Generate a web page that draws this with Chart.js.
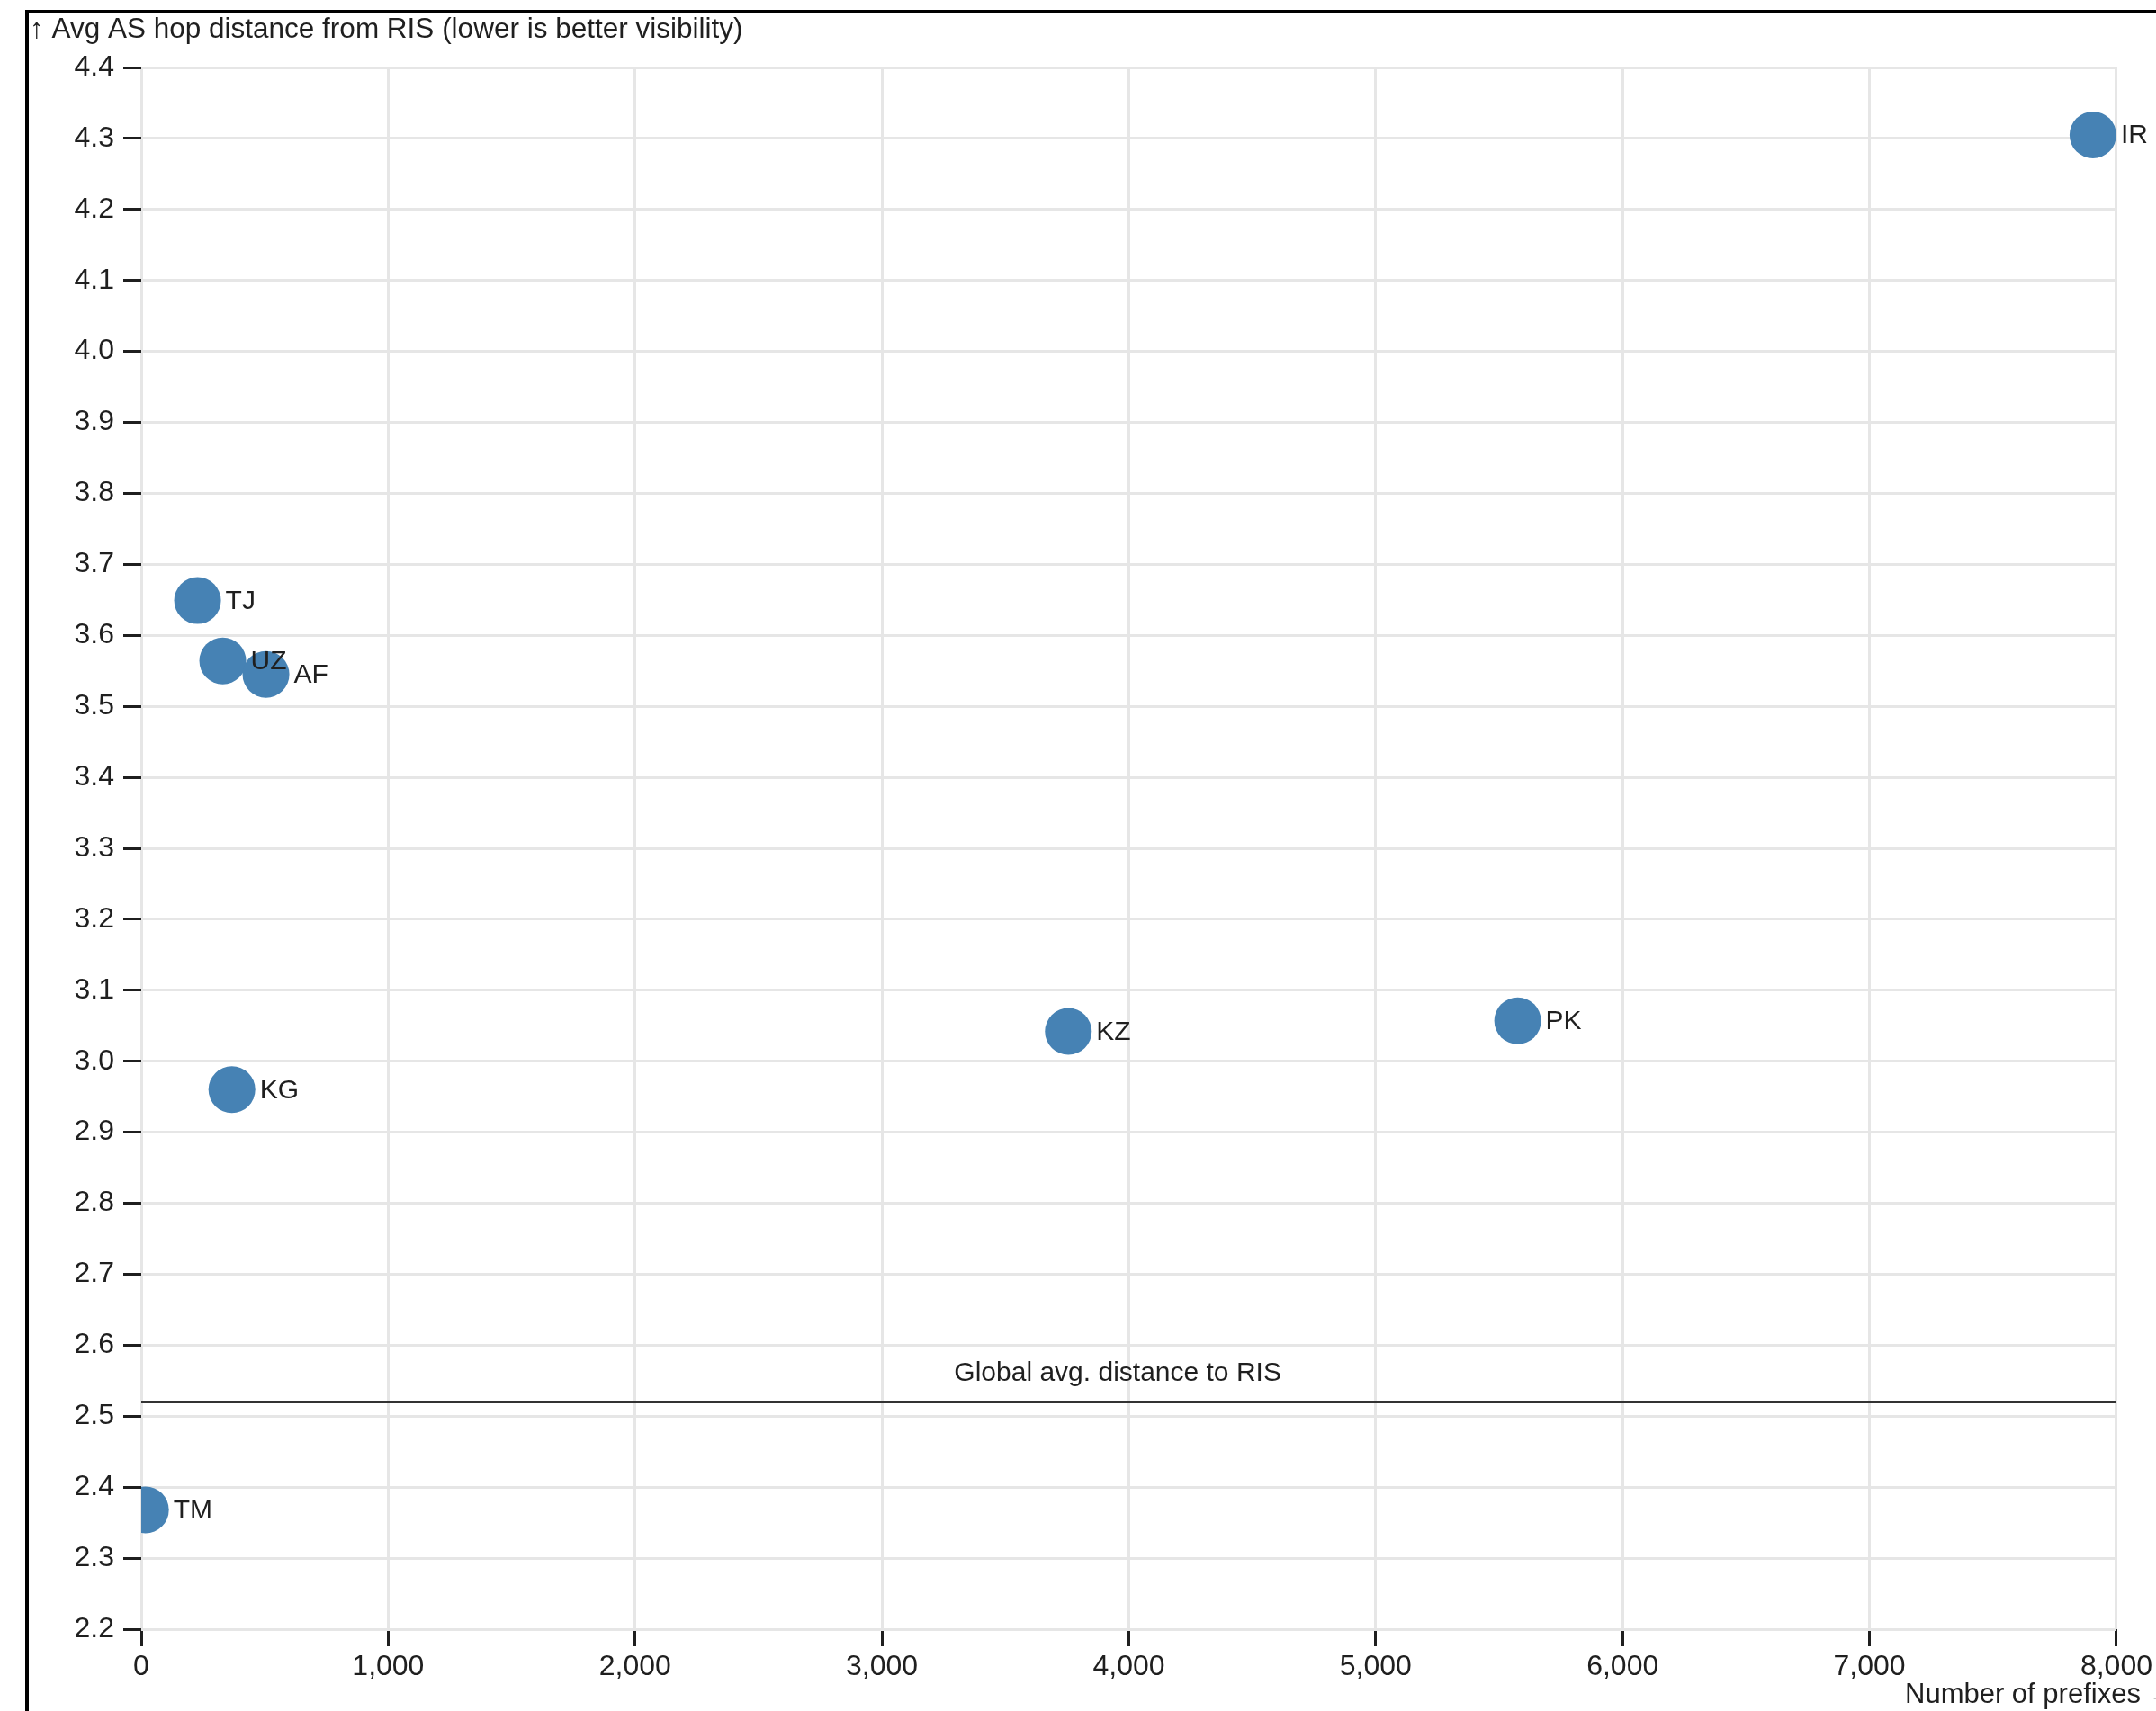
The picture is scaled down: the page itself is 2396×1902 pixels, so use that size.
<!doctype html>
<html lang="en">

<head>
    <meta charset="UTF-8" />
    <title>Avg AS hop distance from RIS</title>
    <script src="https://cdn.jsdelivr.net/npm/chart.js"></script>
    <style>
        html, body { margin: 0; padding: 0; background: #fff; }
        canvas { display: block; }
    </style>
</head>

<body>
    <canvas id="chart" width="2396" height="1902"></canvas>

    <script>
        // data
        const countries = ["IR", "TJ", "UZ", "AF", "KG", "KZ", "PK", "TM"];
        const prefixes = [7905, 228, 330, 505, 367, 3755, 5575, 17];
        const hopDistance = [4.305, 3.649, 3.564, 3.545, 2.960, 3.042, 3.057, 2.368];
        const globalAvg = 2.52;
        const xTicks = [0, 1000, 2000, 3000, 4000, 5000, 6000, 7000, 8000];
        const yTicks = [2.2, 2.3, 2.4, 2.5, 2.6, 2.7, 2.8, 2.9, 3.0, 3.1, 3.2, 3.3, 3.4, 3.5, 3.6, 3.7, 3.8, 3.9, 4.0, 4.1, 4.2, 4.3, 4.4];

        const FONT = '"Liberation Sans", Arial, Helvetica, sans-serif';
        const TEXT = "#1f1f1f";
        const GRID = "#e6e6e6";

        Chart.defaults.font.family = FONT;
        Chart.defaults.color = TEXT;

        // frame, titles, reference line and point labels
        const decorations = {
            id: "decorations",
            beforeDraw(chart) {
                const c = chart.ctx;
                c.save();
                c.fillStyle = "#fff";
                c.fillRect(0, 0, chart.width, chart.height);
                c.fillStyle = "#000";
                c.fillRect(28, 11, chart.width - 28, 4);
                c.fillRect(28, 11, 4, chart.height - 11);
                c.restore();
            },
            beforeDatasetsDraw(chart) {
                const c = chart.ctx;
                const x = chart.scales.x, y = chart.scales.y;
                const yp = y.getPixelForValue(globalAvg);
                c.save();
                c.strokeStyle = "#333";
                c.lineWidth = 3;
                c.beginPath();
                c.moveTo(x.getPixelForValue(0), yp);
                c.lineTo(x.getPixelForValue(8000), yp);
                c.stroke();
                c.fillStyle = TEXT;
                c.font = "30px " + FONT;
                c.textAlign = "center";
                c.textBaseline = "middle";
                c.fillText("Global avg. distance to RIS", x.getPixelForValue(3955), yp - 32);
                c.restore();
            },
            afterDatasetsDraw(chart) {
                const c = chart.ctx;
                const x = chart.scales.x, y = chart.scales.y;
                c.save();
                c.fillStyle = TEXT;
                c.font = "30px " + FONT;
                c.textBaseline = "middle";
                c.textAlign = "left";
                countries.forEach((name, i) => {
                    c.fillText(name, x.getPixelForValue(prefixes[i]) + 31, y.getPixelForValue(hopDistance[i]) + 1);
                });
                c.font = "31.5px " + FONT;
                c.fillText("\u2191 Avg AS hop distance from RIS (lower is better visibility)", 33, 33);
                c.font = "31px " + FONT;
                c.fillText("Number of prefixes \u2192", 2117, 1884);
                c.restore();
            }
        };

        new Chart(document.getElementById("chart"), {
            type: "scatter",
            data: {
                datasets: [{
                    data: countries.map((c, i) => ({ x: prefixes[i], y: hopDistance[i] })),
                    backgroundColor: "#4682b4",
                    borderWidth: 0,
                    pointRadius: 26,
                    pointHoverRadius: 26,
                }],
            },
            options: {
                responsive: false,
                animation: false,
                devicePixelRatio: 1,
                layout: { padding: { left: 0, top: 75, right: 43, bottom: 0 } },
                plugins: { legend: { display: false }, tooltip: { enabled: false } },
                scales: {
                    x: {
                        type: "linear",
                        min: 0,
                        max: 8000,
                        afterFit: (s) => { s.height = 91; },
                        afterBuildTicks: (s) => { s.ticks = xTicks.map(v => ({ value: v })); },
                        ticks: {
                            font: { size: 32 },
                            color: TEXT,
                            padding: 4,
                            maxRotation: 0,
                            callback: (v) => v.toLocaleString("en-US"),
                        },
                        grid: { color: GRID, lineWidth: 3, tickColor: TEXT, tickLength: 19, tickWidth: 3 },
                        border: { display: false },
                    },
                    y: {
                        type: "linear",
                        min: 2.2,
                        max: 4.4,
                        afterFit: (s) => { s.width = 157; },
                        afterBuildTicks: (s) => { s.ticks = yTicks.map(v => ({ value: v })); },
                        ticks: {
                            font: { size: 32 },
                            color: TEXT,
                            padding: 10,
                            callback: (v) => Number(v).toFixed(1),
                        },
                        grid: { color: GRID, lineWidth: 3, tickColor: TEXT, tickLength: 20, tickWidth: 3 },
                        border: { display: false },
                    },
                },
            },
            plugins: [decorations],
        });
    </script>
</body>

</html>
